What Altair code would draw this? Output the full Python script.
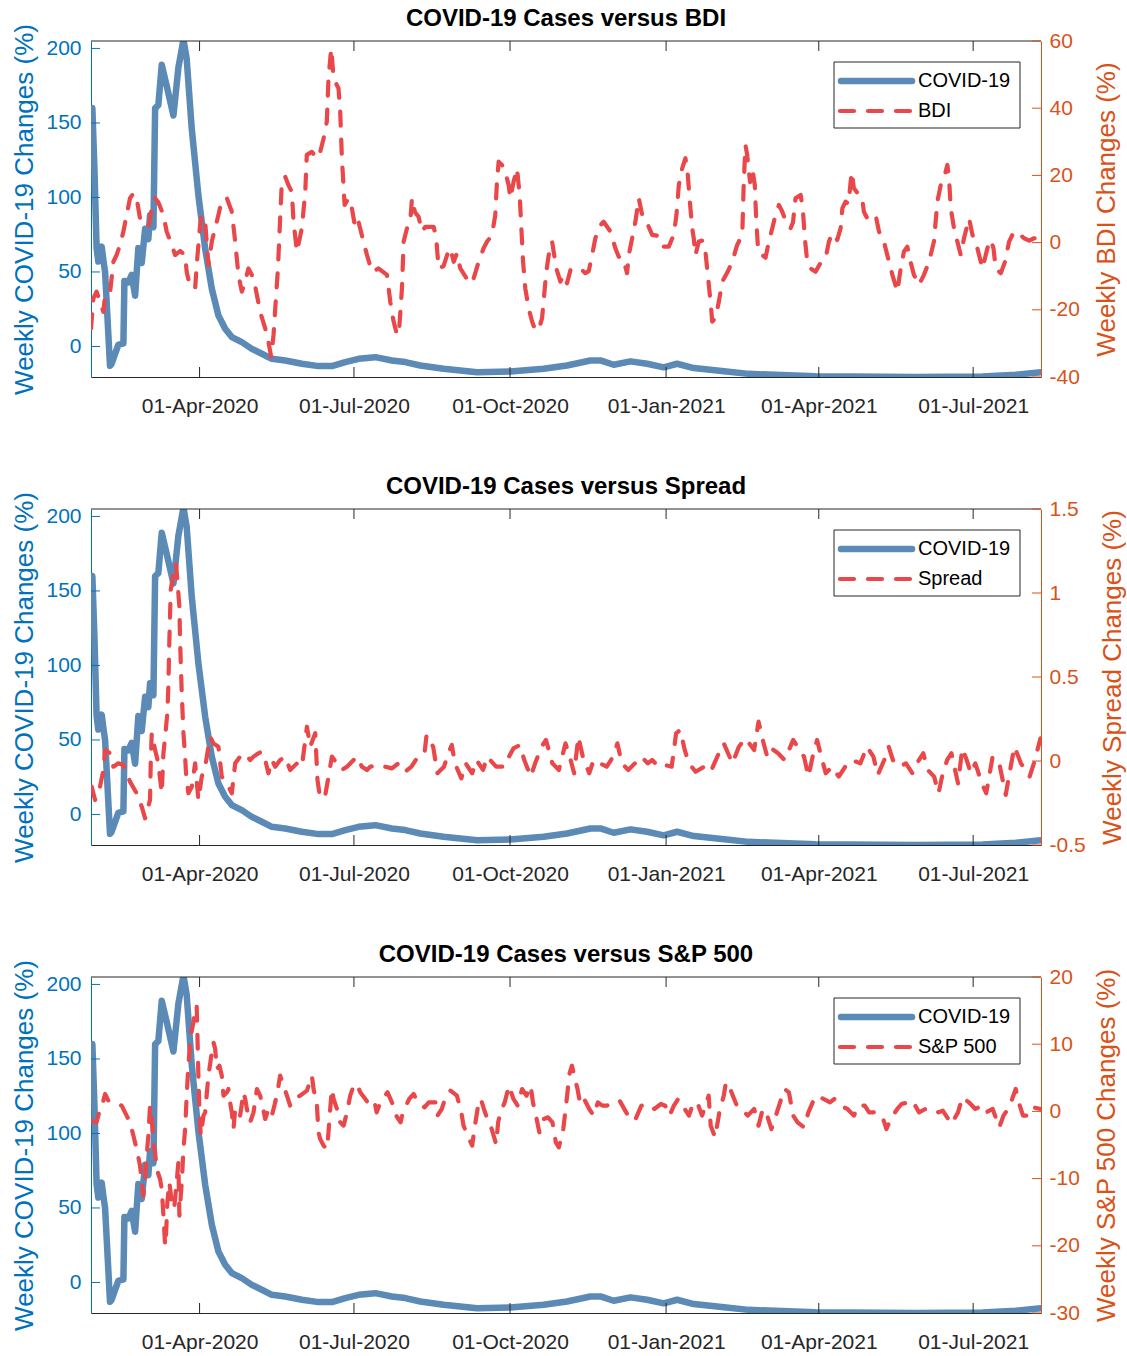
import altair as alt
import pandas as pd

START = "2020-01-28"

# ---------------- data ----------------
covid_days = [0.0, 0.8, 2.0, 3.3, 4.3, 5.3, 6.3, 7.3, 8.3, 11.2, 12.0, 14.2, 16.1, 19.1, 19.7, 22, 24, 26,
              27.9, 29.9, 31.9, 33.8, 34.8, 36.8, 37.8, 39.7, 41.7, 44.6, 48.6, 51.5, 54.5, 56.4, 59.4,
              63.3, 67.3, 71.2, 75.1, 79.1, 83, 88.9, 94.8, 100.7, 106.6, 114.5, 124.3, 134.1, 142,
              149.9, 157.7, 167.6, 177.4, 185.2, 194.1, 207.8, 227.6, 247.2, 266.8, 280.6, 294.4,
              300.3, 308.1, 318, 327.8, 337.6, 345.5, 355.3, 369.1, 387.8, 427.1, 486.1, 525.5,
              545.1, 559.9]
covid_values = [158, 160, 120, 66, 57, 60, 67, 58, 50, -13, -12, -5, 1, 2, 44, 43, 48, 34,
                66, 56, 79, 72, 88, 80, 160, 162, 189, 175, 155, 187, 206, 193, 146,
                101.5, 65.6, 38.8, 20.8, 11.9, 6.3, 2.9, -1.6, -4.9, -8.3, -9.4, -11.6, -13.2, -13.2,
                -10.5, -8.3, -7.2, -9.4, -10.5, -12.8, -15, -17.3, -16.8, -15, -12.8, -9.4,
                -9.4, -12.3, -10, -11.6, -14, -11.6, -14.5, -16.2, -18.4, -20, -20.5, -20.2,
                -19, -17.3]

bdi_days = [0, 1.4, 3.3, 5.3, 7.3, 8.3, 11.2, 13.2, 15.1, 17.1, 19.1, 21, 23, 25, 26.9, 28.9, 30.9,
            33.8, 35.8, 37.8, 39.7, 42.7, 44.6, 47.6, 49.6, 52.5, 55.5, 56.4, 58.4, 61.4, 62.3, 64.3,
            65.3, 67.3, 69.2, 71.2, 73.2, 75.1, 77.1, 80.1, 83, 85, 86.9, 88.9, 90.9, 92.8, 95.8,
            97.8, 99.7, 102.7, 104.6, 106.2, 107.6, 108.6, 110.2, 111.5, 112.5, 114.5, 116.4, 118.4,
            119.4, 121.4, 124.3, 126.3, 127.2, 130.2, 133.2, 135.1, 137.1, 139, 140, 141.6, 143,
            145.9, 146.9, 147.9, 149.5, 151.8, 153.8, 155.8, 157.7, 160.6, 162.7, 165.6, 169.5,
            174.5, 176.4, 178.4, 180.4, 181.5, 183.3, 184.3, 186.3, 188.2, 189.2, 191, 193.1, 195.1,
            197.1, 202, 203.5, 204.9, 207.8, 209.9, 211.8, 213.8, 215.7, 217.7, 222.6, 224.6, 226.5,
            228.5, 231.4, 233.5, 236.4, 238.3, 239.3, 240.3, 242.3, 244.2, 246.2, 247.2, 249.1,
            251.1, 252.7, 253.5, 254.7, 256, 258, 260, 261.9, 263.9, 265.9, 267.3, 268.4, 269.8,
            271.8, 274.3, 276.7, 278.6, 280.6, 282.6, 285.5, 288.5, 291.4, 293.4, 295.4, 297.3,
            300.3, 302.2, 306.2, 309.1, 311.1, 313.5, 316, 317, 319, 320.9, 322.9, 324.9, 327.8,
            330.8, 334.7, 337.6, 340.6, 343.5, 345.1, 346.5, 348.5, 350.4, 351.8, 353, 354.4, 355.3,
            356.3, 358.3, 360.3, 362.2, 363.6, 365.2, 366.2, 368.1, 370.1, 372.1, 375, 378, 380.9,
            383.9, 384.8, 385.8, 386.8, 388.5, 389.8, 391.3, 392.1, 393.3, 395.7, 397.6, 399.6,
            401.6, 403.5, 405.5, 407.5, 410.4, 412.4, 413.8, 415.3, 418.3, 419.6, 420.8, 422.2,
            424.2, 427.1, 430.1, 433, 435, 437, 439.9, 441.9, 442.9, 444.8, 446.5, 448.4, 449.7,
            452.7, 454.5, 455.6, 457.6, 460, 462.5, 464.5, 467.4, 470.4, 472.4, 475.3, 477.3, 479.2,
            481.2, 483, 485.1, 488.1, 491, 494, 496.9, 498.9, 500.9, 502.8, 504.8, 505.8, 506.8,
            508.7, 510.7, 512.7, 514.6, 517.6, 519.6, 522.5, 525.5, 528.4, 530.4, 532, 533.3, 536.3,
            538.8, 541.2, 544.1, 547, 550, 553, 555.9, 559.9]
bdi_values = [-25.5, -16.6, -14.6, -17.6, -20.6, -15.6, -15, -5.7, -3.7, -0.7, 3.3, 8.2, 13.2, 14.7,
              13.2, 7.2, 6, 4.7, 10.2, 13.2, 12, 8.2, 3.3, -0.7, -3.7, -2.5, -3.7, -8.7, -13.1, -13.6,
              -6.7, 5.2, 8.2, 6.2, -6.7, 0.3, 4.3, 8.2, 12.7, 13.2, 9.2, 0.3, -9.6, -14.6, -11.6,
              -7.7, -10.6, -15.6, -20.6, -25.5, -29.5, -34, -27.5, -19.6, -7.7, 7.2, 18.1, 19.6,
              17.1, 15.1, 6.2, -2.7, 4.3, 15.1, 26.1, 27, 25.1, 27, 31, 36, 48.9, 57.8, 48.9, 45.9,
              39, 25.1, 11.2, 13.2, 10.2, 4.3, 6.2, 0.3, -3.7, -8.7, -7.7, -9.6, -17.6, -23.5, -27.5,
              -27, -13.6, 0.3, 4.3, 6.2, 13.2, 9, 7.7, 3.3, 4.7, 4.7, 1.3, -7.7, -7, -3.7, -1.7,
              -5.7, -3.2, -7.7, -11.6, -12.1, -9.1, -5.7, -1.7, 0.3, 2.3, 8.2, 18.1, 24.1, 23.1,
              21.1, 17.1, 13.2, 18.1, 22.1, 14.2, 6.2, -5.7, -13.6, -19.6, -23.5, -26, -26, -22.5,
              -14.6, -8.7, -3.7, 0.3, -7.7, -11.6, -9.6, -12.1, -8.2, -8.2, -7.7, -9.1, -8.5, -3.7,
              1.3, 5.2, 6.2, 3.3, -1.7, -4.2, -4.5, -9.1, -3.7, 1.3, 6.2, 13.2, 8.2, 5.8, 2.3, 2,
              -1.2, -1.2, 2.3, 8.2, 17.1, 22.1, 25.1, 20.1, 12.2, 4.3, 1.3, -3.7, 0.3, 0.6, -2.7,
              -9.6, -17.6, -23.5, -22.5, -17.6, -11.6, -9, -5.7, -0.7, 2.3, 18.1, 29, 26.1, 18, 22.1,
              17.1, 7.2, -2.7, -3.7, -4.5, 0.3, 4.3, 8.2, 11.2, 9.2, 5.2, 4.3, 6, 13.2, 14.2, 10,
              1.3, -5.7, -7.7, -8.7, -6, -4.7, 0.3, 2.8, 0.8, 4.3, 10.2, 12.2, 11.5, 21.1, 16.2,
              14.2, 13.5, 9.2, 7.2, 8, 8.2, 3.3, 0.3, -5.7, -9.6, -14.6, -7.7, -2.7, -1.2, -5.5,
              -9.6, -12.6, -9.6, -5.7, 0.3, 12.2, 17.1, 19.1, 23.1, 19.1, 10.2, 4.3, 0.3, -3.7, 1.3,
              7.2, 2.3, -1.7, -7.7, -1.7, 0.8, -1.7, -7.7, -9.1, -5.7, 0.3, 3.3, 2.6, 1.3, 0.6, 1.3,
              1.3]

spread_days = [0.4, 2.4, 5.3, 7.3, 8.3, 11.2, 13.2, 16.1, 19.1, 23, 26.9, 29.9, 31.9, 34.8, 35.2,
               35.8, 37.8, 39.7, 41.7, 42.7, 43.7, 45, 45.6, 46.2, 47, 48.6, 50.1, 50.9, 52.1, 52.5,
               53.5, 54.5, 55.5, 56, 57.4, 59.4, 61.4, 63.3, 65.3, 67.3, 70.2, 72.2, 75.1, 77.1,
               80.1, 83, 85, 87.9, 90.9, 93.8, 95.8, 98.7, 100.7, 102.7, 104.6, 106.6, 108.6, 111.5,
               114.5, 117.4, 121.4, 124.3, 127.3, 129.2, 132.2, 133.5, 135.1, 138.1, 140, 142, 145,
               147.9, 150.9, 154.8, 156.8, 159.7, 162.7, 164.6, 169.7, 173.5, 177.4, 181.2, 185.1,
               188.9, 192.7, 196.6, 197.8, 201.7, 204.2, 208.1, 210.6, 212.7, 214.5, 218.3, 220.9,
               224.7, 227.2, 231.1, 233.6, 238.8, 243.9, 246.4, 249, 252.8, 255.4, 259.2, 261.8,
               265.6, 268.2, 272, 275.8, 279.7, 282.2, 284.8, 287.3, 289.9, 293.7, 296.3, 300.1, 304,
               307.8, 310.3, 312.9, 316.7, 320.6, 324.4, 328.2, 330.8, 334.6, 338.5, 342.3, 344.9,
               347.4, 350, 352.5, 356.4, 361.5, 365.3, 369.2, 373, 378.1, 381.9, 385.8, 390.9, 393.5,
               396, 398.6, 401.1, 405, 408.8, 411.4, 413.9, 416.5, 420.3, 422.9, 425.4, 428, 430.5,
               433.1, 436.9, 440.8, 444.6, 448.4, 453.5, 457.4, 461.2, 463.8, 467.6, 470.2, 472.7,
               476.6, 480.4, 484.2, 486.8, 490.6, 493.2, 497, 499.6, 502.1, 504.7, 507.2, 511.1,
               513.6, 516.2, 518.7, 521.3, 525.1, 527.7, 531.5, 535.4, 539.2, 541.8, 544.3, 548.2,
               550.7, 553.3, 555.8, 558.4, 559.7]
spread_values = [-0.153, -0.232, -0.153, -0.054, 0.065, 0.046, -0.034, -0.014, -0.024, -0.123,
                 -0.192, -0.272, -0.341, -0.232, -0.014, 0.165, 0.065, -0.014, -0.192, 0.046, 0.145,
                 0.284, 0.442, 0.72, 1.018, 1.117, 1.177, 1.077, 0.919, 0.72, 0.403, 0.165, 0.026,
                 -0.073, -0.192, -0.153, -0.014, -0.232, -0.093, -0.034, 0.145, 0.105, 0.085, -0.093,
                 -0.133, -0.192, -0.014, 0.026, 0.046, 0.006, 0.026, 0.046, 0.056, 0.006, -0.073,
                 0.006, -0.034, 0.006, 0.026, -0.054, -0.014, -0.034, 0.204, 0.085, 0.165, -0.113,
                 -0.222, -0.202, -0.093, 0.026, -0.014, -0.054, -0.034, 0.006, 0.026, -0.034, -0.054,
                 -0.034, -0.024, -0.034, -0.044, -0.014, -0.064, -0.034, 0.026, 0.046, 0.155, 0.085,
                 -0.073, -0.034, 0.046, 0.095, -0.014, -0.103, -0.014, -0.073, 0.006, -0.053, 0.026,
                 -0.034, -0.034, 0.026, 0.075, 0.095, 0.006, -0.093, -0.014, 0.085, 0.125, -0.014,
                 -0.053, 0.105, 0.026, -0.073, 0.145, 0.026, -0.073, 0.006, -0.014, -0.034, 0.026,
                 0.105, -0.014, -0.053, -0.014, 0.026, -0.014, 0.006, -0.034, -0.024, -0.034, 0.165,
                 0.185, 0.065, -0.014, -0.064, -0.034, -0.064, 0.026, 0.105, -0.014, 0.085, 0.135,
                 0.065, 0.234, 0.125, 0.026, 0.075, 0.046, 0.006, 0.065, 0.125, 0.085, 0.026, -0.093,
                 0.026, 0.125, 0.026, -0.073, -0.034, -0.093, -0.034, 0.006, -0.014, 0.085, 0.026,
                 -0.083, 0.006, 0.085, 0.006, -0.034, -0.014, -0.073, -0.014, 0.046, -0.053, -0.093,
                 -0.192, -0.073, 0.006, 0.046, -0.133, 0.075, 0.006, -0.073, -0.014, -0.133, -0.192,
                 0.026, -0.014, -0.202, -0.053, 0.085, -0.014, -0.053, -0.093, -0.014, 0.085, 0.135]

sp_days = [0.4, 3.3, 5.3, 7.3, 8.3, 10.2, 13.2, 16.1, 18.1, 21, 23, 25, 26.9, 28.9, 29.9, 30.9, 31.9,
           32.8, 33.8, 34.8, 35.8, 36.8, 37.8, 38.7, 40.7, 41.7, 42.7, 43.7, 44.3, 45, 46.2, 47.6, 49,
           50.5, 51.5, 52.1, 53.5, 54.5, 55.5, 56.4, 57.4, 58.8, 60.4, 61.4, 62.3, 62.7, 63.3, 63.9,
           64.7, 66.3, 67.3, 69.2, 71.2, 72.2, 73.2, 74.2, 75.7, 77.1, 78.1, 80.1, 81, 82, 83, 84,
           85, 85.9, 87.9, 89.9, 90.9, 91.9, 93.8, 95.8, 97.8, 99.7, 100.7, 102.7, 104.6, 106.6,
           108.6, 110.5, 111.5, 113.5, 115.5, 117.4, 119.4, 123.3, 127.3, 130.2, 131.2, 133.2, 134.1,
           135.1, 137.1, 139.1, 140, 141, 142, 143, 145, 146.9, 148.9, 150.9, 152.8, 154.8, 156.8,
           158.7, 161.7, 164.6, 167.2, 168.4, 171, 174.8, 177.4, 179.9, 182.5, 183.8, 187.6, 190.2,
           192.7, 196.6, 199.1, 203, 204.2, 206.8, 209.3, 211.9, 215.7, 218.3, 219.6, 222.1, 224.7,
           226, 228.5, 229.8, 231.6, 233.6, 236.2, 238.8, 240, 241.3, 243.9, 246.4, 249, 251.5,
           254.1, 256.7, 259.2, 260.5, 262.3, 264.3, 266.9, 269.4, 272, 274, 275.8, 278.4, 280.9,
           281.7, 283.5, 285.3, 286.8, 288.6, 291.2, 293.7, 296.3, 298.8, 301.4, 304, 307.8, 311.6,
           315.5, 318, 320.6, 324.4, 328.2, 332.1, 335.9, 338.5, 341, 343.6, 346.1, 350, 352.5,
           355.1, 357.7, 360.2, 364.1, 365.3, 367.9, 370.4, 373, 374.3, 376.8, 380.7, 384.5, 387.1,
           390.9, 393.5, 396, 398.6, 401.1, 403.7, 406.2, 408.8, 411.4, 413.9, 416.5, 420.3, 422.9,
           425.4, 428, 431.8, 435.6, 438.2, 442, 445.9, 449.7, 452.3, 456.1, 458.7, 462.5, 466.3,
           468.9, 471.4, 475.3, 477.8, 481.7, 484.2, 488.1, 491.9, 495.7, 499.6, 502.1, 507.2,
           511.1, 513.6, 517.5, 521.3, 525.1, 527.7, 531.5, 535.4, 537.9, 540.5, 543, 545.1, 546.9,
           549.4, 553.3, 555.8, 559.7]
sp_values = [-1.38, -1.63, 0.36, 1.6, 2.59, 1.6, 1.35, 1.1, 0.85, -0.63, -1.63, -3.61, -5.59, -8.07,
             -10.56, -12.54, -10.06, -6.59, -3.61, 0.85, -1.13, -4.6, -6.09, -8.57, -10.06, -11.55,
             -15.5, -19.98, -18, -13.53, -10.56, -13.53, -14.52, -10.56, -7.58, -15.5, -10.56, -5.59,
             -2.62, 2.34, 6.8, 11.27, 13.25, 15.24, 15.73, 11.77, 5.32, 0.36, -3.61, -0.63, -0.14,
             5.32, 8.79, 10.28, 9.3, 6.31, 6.8, 5.32, 2.34, 2.84, 3.33, 1.35, -0.14, -2.62, 0.36,
             -0.63, -0.63, 2.84, 1.85, 0.36, -1.63, -0.14, 3.33, 2.34, 1.35, -1.13, 0.36, -0.63, 1.35,
             3.83, 5.32, 3.83, 2.34, 0.85, 1.85, 2.34, 3.09, 5.32, 3.33, 0.85, -3.11, -4.1, -5.1,
             -5.59, -3.11, 0.36, 3.33, 1.85, 0.36, -1.63, -2.12, -0.14, 2.34, 3.83, 4.08, 2.84, 1.85,
             0.85, 1.35, -0.14, 1.6, 2.84, 1.35, -0.63, -1.63, -0.14, 1.85, 2.59, 1.35, 0.6, 1.35,
             1.35, -0.63, 0.36, 2.34, 3.09, 2.34, -0.14, -2.12, -3.61, -5.1, -2.62, 1.35, 1.85, 0.36,
             -1.13, -2.62, -4.85, -1.63, -0.14, 1.35, 3.83, 1.85, 0.85, 3.33, 2.34, 3.83, 1.35, -0.63,
             -3.11, -1.13, -0.88, -1.63, -4.6, -5.35, -2.62, 2.84, 5.32, 6.81, 4.82, 3.33, 0.85, 1.6,
             0.36, -0.63, 1.35, 0.85, 0.85, 1.35, 1.6, -0.14, -1.13, -1.38, 0.85, 1.1, 0.36, 1.1,
             0.85, -0.63, 0.85, 1.85, 0.36, -0.63, 1.35, 1.1, -0.63, 2.34, -2.12, -3.86, -0.14, 2.34,
             4.33, 3.33, 0.85, 0.11, -0.63, 0.36, -2.12, 0.36, -0.63, -2.62, -0.63, 1.35, 3.33, 2.84,
             -0.63, -1.63, -2.37, -0.14, 1.35, 2.34, 1.85, 1.35, 1.85, 0.85, 0.36, -0.63, 0.85, 0.85,
             -0.14, -0.14, -0.63, -2.62, -1.13, 0.36, 1.1, 1.35, 1.6, -0.14, 0.36, 0.36, -0.14, 0.11,
             -1.87, -0.14, 2.09, 1.35, 0.36, 0.85, -0.14, 0.36, -2.37, -0.63, 0.36, 1.85, 3.33, 1.35,
             -0.63, -0.63, 0.6, 0.36]

panel_titles = ["COVID-19 Cases versus BDI", "COVID-19 Cases versus Spread", "COVID-19 Cases versus S&P 500"]
covid_name = "COVID-19"
series_names = ["BDI", "Spread", "S&P 500"]
right_titles = ["Weekly BDI Changes (%)", "Weekly Spread Changes (%)", "Weekly S&P 500 Changes (%)"]
right_domains = [[-40, 60], [-0.5, 1.5], [-30, 20]]
right_ticks = [[-40, -20, 0, 20, 40, 60], [-0.5, 0, 0.5, 1, 1.5], [-30, -20, -10, 0, 10, 20]]
left_title = "Weekly COVID-19 Changes (%)"
left_domain = [-20.5, 205]
left_ticks = [0, 50, 100, 150, 200]
x_tick_dates = ["2020-04-01", "2020-07-01", "2020-10-01", "2021-01-01", "2021-04-01", "2021-07-01"]

# ---------------- styling ----------------
FONT = "Liberation Sans"
BLUE_AX = "#0072BD"
ORANGE_AX = "#D95319"
COVID_C = "#5A8AB5"
RED_C = "#E9474A"
GREY = "#262626"
W, H = 950, 336
TICK = 9
COVID_W, RED_W = 6.5, 4.2
DASH = [14, 14]
# legend box geometry inside the plot area (pixels)
LEG_X0, LEG_X1, LEG_Y0, LEG_Y1 = 743, 929, 21, 87
LEG_SYM0, LEG_SYM1, LEG_ROW1, LEG_ROW2 = 747, 824, 40, 70


def to_dates(days):
    return pd.Timestamp(START) + pd.to_timedelta(pd.Series(days, dtype=float), unit="D")


covid_df = pd.DataFrame({"date": to_dates(covid_days), "value": covid_values})
other_dfs = [
    pd.DataFrame({"date": to_dates(bdi_days), "value": bdi_values}),
    pd.DataFrame({"date": to_dates(spread_days), "value": spread_values}),
    pd.DataFrame({"date": to_dates(sp_days), "value": sp_values}),
]

x_enc = alt.X(
    "date:T",
    scale=alt.Scale(domain=[alt.DateTime(year=2020, month=1, date=28),
                            alt.DateTime(year=2021, month=8, date=10)]),
    axis=alt.Axis(
        values=[alt.DateTime(year=int(d[:4]), month=int(d[5:7]), date=int(d[8:])) for d in x_tick_dates],
        format="%d-%b-%Y", title=None, ticks=False, grid=False, domainColor=GREY, domainWidth=1,
        labelColor=GREY, labelFontSize=21, labelPadding=18, labelFlush=False, labelOverlap=False,
    ),
)

y_left = alt.Y(
    "value:Q",
    scale=alt.Scale(domain=left_domain, nice=False, zero=False),
    axis=alt.Axis(
        orient="left", values=left_ticks, title=left_title, ticks=False, grid=False,
        domainColor=BLUE_AX, labelColor=BLUE_AX, titleColor=BLUE_AX, labelExpr="datum.value + ''",
        labelFontSize=21, titleFontSize=26, titleFontWeight="normal", labelPadding=10, titlePadding=8,
    ),
)


def y_right(i):
    return alt.Y(
        "value:Q",
        scale=alt.Scale(domain=right_domains[i], nice=False, zero=False),
        axis=alt.Axis(
            orient="right", values=right_ticks[i], title=right_titles[i], ticks=False, grid=False,
            domainColor=ORANGE_AX, labelColor=ORANGE_AX, titleColor=ORANGE_AX,
            labelExpr="datum.value + ''", labelFontSize=21, titleFontSize=26,
            titleFontWeight="normal", labelPadding=8, titlePadding=14, titleAngle=270,
            titleBaseline="top",
        ),
    )


def legend_layers(i):
    one = pd.DataFrame({"a": [0]})
    box = alt.Chart(one).mark_rect(fill="white", stroke=GREY, strokeWidth=1).encode(
        x=alt.value(LEG_X0), x2=alt.value(LEG_X1), y=alt.value(LEG_Y0), y2=alt.value(LEG_Y1))
    sym1 = alt.Chart(one).mark_rule(color=COVID_C, strokeWidth=COVID_W, strokeCap="round").encode(
        x=alt.value(LEG_SYM0 + 3), x2=alt.value(LEG_SYM1 - 3), y=alt.value(LEG_ROW1))
    sym2 = alt.Chart(one).mark_rule(color=RED_C, strokeWidth=RED_W, strokeCap="round",
                                    strokeDash=DASH).encode(
        x=alt.value(LEG_SYM0 + 2), x2=alt.value(LEG_SYM1), y=alt.value(LEG_ROW2))
    t1 = alt.Chart(pd.DataFrame({"label": [covid_name]})).mark_text(
        align="left", baseline="middle", fontSize=20, font=FONT, color="black").encode(
        text="label:N", x=alt.value(LEG_SYM1 + 3), y=alt.value(LEG_ROW1))
    t2 = alt.Chart(pd.DataFrame({"label": [series_names[i]]})).mark_text(
        align="left", baseline="middle", fontSize=20, font=FONT, color="black").encode(
        text="label:N", x=alt.value(LEG_SYM1 + 3), y=alt.value(LEG_ROW2))
    return alt.layer(box, sym1, sym2, t1, t2)


def panel(i):
    covid_line = alt.Chart(covid_df).mark_line(
        clip=True, color=COVID_C, strokeWidth=COVID_W, strokeCap="round", strokeJoin="round"
    ).encode(x=x_enc, y=y_left)
    left_tick_marks = alt.Chart(pd.DataFrame({"value": left_ticks})).mark_rule(color=BLUE_AX).encode(
        y=y_left, x=alt.value(0), x2=alt.value(TICK))
    xt = pd.DataFrame({"date": pd.to_datetime(x_tick_dates)})
    x_bottom = alt.Chart(xt).mark_rule(color=GREY).encode(x=x_enc, y=alt.value(H), y2=alt.value(H - 10))
    x_top = alt.Chart(xt).mark_rule(color=GREY).encode(x=x_enc, y=alt.value(0), y2=alt.value(10))
    top_border = alt.Chart(pd.DataFrame({"a": [0]})).mark_rule(color=GREY).encode(
        x=alt.value(0), x2=alt.value(W), y=alt.value(0))
    left_group = alt.layer(covid_line, left_tick_marks, x_bottom, x_top, top_border)

    yr = y_right(i)
    other_line = alt.Chart(other_dfs[i]).mark_line(
        clip=True, color=RED_C, strokeWidth=RED_W, strokeDash=DASH, strokeCap="round", strokeJoin="round"
    ).encode(x=x_enc, y=yr)
    right_tick_marks = alt.Chart(pd.DataFrame({"value": right_ticks[i]})).mark_rule(color=ORANGE_AX).encode(
        y=yr, x=alt.value(W - TICK), x2=alt.value(W))
    right_group = alt.layer(other_line, right_tick_marks)

    return alt.layer(left_group, right_group, legend_layers(i)).resolve_scale(y="independent").properties(
        width=W, height=H,
        title=alt.TitleParams(panel_titles[i], fontSize=24, font=FONT, fontWeight="bold", color="black",
                              offset=-7),
    )


chart = alt.vconcat(panel(0), panel(1), panel(2), spacing=58).properties(
    padding={"left": 11, "top": 6, "right": 0, "bottom": 0}
).configure(
    font=FONT, background="white"
).configure_view(stroke=None).configure_axis(labelFont=FONT, titleFont=FONT)

chart.save("out.html", embed_options={"renderer": "svg", "actions": False})
